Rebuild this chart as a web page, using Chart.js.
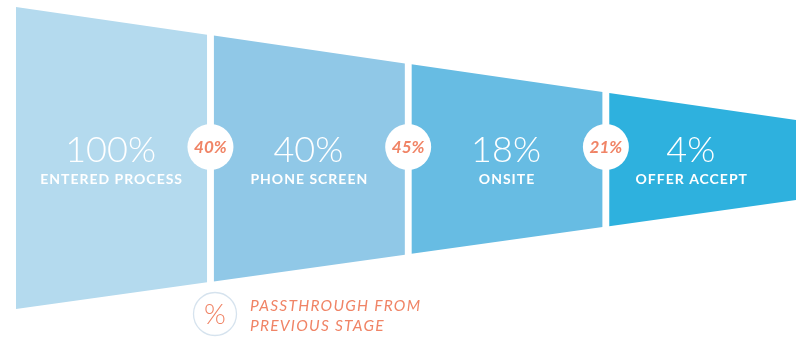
<!DOCTYPE html>
<html>
<head>
<meta charset="utf-8">
<script src="https://cdn.jsdelivr.net/npm/chart.js@4.4.1/dist/chart.umd.min.js"></script>
<style>
  html, body { margin: 0; padding: 0; background: #ffffff; }
  #wrap { width: 796px; height: 340px; position: relative; }
</style>
</head>
<body>
<div id="wrap"><canvas id="c" width="796" height="340"></canvas></div>
<script>
// ---- data ----
const stageNames = ['ENTERED PROCESS', 'PHONE SCREEN', 'ONSITE', 'OFFER ACCEPT'];
const stagePercents = [100, 40, 18, 4];
const passthroughPercents = [40, 45, 21];
const stageColors = ['#b4daee', '#90c8e7', '#67bce3', '#2eb1de'];
// funnel outline (y units, 0 = funnel axis) at each stage's inner / outer edge
const funnelTopIn = [151.5, 122.9, 94.2, 65.6];
const funnelTopOut = [123.8, 95.1, 66.5, 37.9];
const funnelBottomIn = [-150.5, -122.9, -95.3, -67.7];
const funnelBottomOut = [-123.8, -96.2, -68.6, -41.0];
const legendText = ['PASSTHROUGH FROM', 'PREVIOUS STAGE'];

const segWidth = 0.967; // width of a stage in x units (1 = one stage + gap)
const ORANGE = '#f08466';

const datasets = [];
stageNames.forEach((name, i) => {
  datasets.push({
    label: name + ' top',
    data: [{x: i, y: funnelTopIn[i]}, {x: i + segWidth, y: funnelTopOut[i]}],
    backgroundColor: stageColors[i],
    borderWidth: 0, pointRadius: 0, tension: 0,
    fill: '+1'
  });
  datasets.push({
    label: name + ' bottom',
    data: [{x: i, y: funnelBottomIn[i]}, {x: i + segWidth, y: funnelBottomOut[i]}],
    backgroundColor: stageColors[i],
    borderWidth: 0, pointRadius: 0, tension: 0,
    fill: false
  });
});

function spacing(ctx, v) { if ('letterSpacing' in ctx) ctx.letterSpacing = v; }

const labelsPlugin = {
  id: 'funnelLabels',
  afterDatasetsDraw(chart) {
    const ctx = chart.ctx;
    const xs = chart.scales.x, ys = chart.scales.y;
    const cy = ys.getPixelForValue(0);
    ctx.save();
    ctx.textAlign = 'center';
    ctx.textBaseline = 'middle';
    // stage labels
    stageNames.forEach((name, i) => {
      let cx = xs.getPixelForValue(i + segWidth / 2);
      if (i === stageNames.length - 1) cx -= 13; // last stage is cut by the page edge
      ctx.fillStyle = '#ffffff';
      ctx.font = '300 36px Lato';
      spacing(ctx, '0px');
      ctx.fillText(stagePercents[i] + '%', cx - 1, cy - 8);
      ctx.font = 'bold 14px Lato';
      spacing(ctx, '1px');
      ctx.fillText(name, cx, cy + 21);
      spacing(ctx, '0px');
    });
    // passthrough circles
    passthroughPercents.forEach((p, i) => {
      const gx = xs.getPixelForValue(i + 1 - (1 - segWidth) / 2);
      const gy = cy - 11.5;
      ctx.beginPath();
      ctx.arc(gx, gy, 23, 0, Math.PI * 2);
      ctx.fillStyle = '#ffffff';
      ctx.fill();
      ctx.fillStyle = ORANGE;
      ctx.font = 'italic bold 17px Lato';
      ctx.fillText(p + '%', gx, gy + 1);
    });
    // legend
    const lx = 215, ly = 314;
    ctx.beginPath();
    ctx.arc(lx, ly, 21.5, 0, Math.PI * 2);
    ctx.fillStyle = '#ffffff';
    ctx.fill();
    ctx.strokeStyle = '#d6e3ee';
    ctx.lineWidth = 1.3;
    ctx.stroke();
    ctx.fillStyle = ORANGE;
    ctx.font = '300 28px Lato';
    ctx.fillText('%', lx, ly + 1);
    ctx.textAlign = 'left';
    ctx.font = 'italic 15.5px Lato';
    spacing(ctx, '1.25px');
    ctx.fillText(legendText[0], 250, 305.5);
    ctx.fillText(legendText[1], 250, 325.5);
    ctx.restore();
  }
};

new Chart(document.getElementById('c'), {
  type: 'line',
  data: { datasets },
  options: {
    responsive: false,
    devicePixelRatio: 1,
    animation: false,
    layout: { padding: 0 },
    plugins: { legend: { display: false }, tooltip: { enabled: false } },
    scales: {
      x: { type: 'linear', display: false, min: -0.0809, max: 3.945 },
      y: { type: 'linear', display: false, min: -181.5, max: 158.5 }
    }
  },
  plugins: [labelsPlugin]
});
</script>
</body>
</html>
